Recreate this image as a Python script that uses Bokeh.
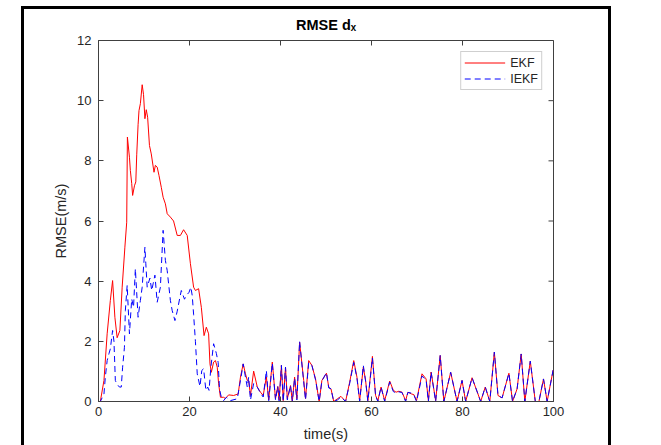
import math
from bokeh.plotting import figure
from bokeh.models import (Range1d, Legend, LegendItem, FixedTicker, ColumnDataSource,
                          Title, GlobalInlineStyleSheet)
from bokeh.embed import file_html
from bokeh.resources import INLINE

# ---------------- data ----------------
x_ticks = [0, 20, 40, 60, 80, 100]
y_ticks = [0, 2, 4, 6, 8, 10, 12]

ekf_t_early = [0, 0.4, 1.2, 1.9, 2.6, 3.1, 3.6, 4.1, 4.7, 5.2, 5.8, 6.2, 6.35, 6.8, 7.0,
               7.3, 7.5, 7.9, 8.2, 8.4, 8.7, 8.9, 9.2, 9.6, 9.9, 10.2, 10.5, 10.8, 11.2,
               11.6, 12.2, 12.5, 12.9, 13.3, 13.8, 14.2, 14.7, 15.1, 15.8, 16.5, 17.3,
               18.0, 18.7, 19.5, 20.2, 20.9, 21.3, 22.0, 22.6, 23.2, 23.7, 24.2, 24.5,
               24.8, 25.3, 25.7, 26.1, 26.4, 26.8, 27.5, 27.9, 28.6, 29.7, 30.7, 31.2,
               31.8, 32.3, 32.7, 33.0, 33.4]
ekf_y_early = [0, 0, 0.7, 2.25, 3.36, 4.02, 2.8, 2.12, 2.36, 3.8, 5.13, 5.96, 8.79, 8.12,
               7.68, 7.25, 6.85, 7.17, 7.3, 8.2, 9.2, 9.67, 9.9, 10.53, 10.2, 9.4, 9.7,
               9.45, 8.51, 8.23, 7.62, 7.85, 7.79, 7.51, 7.12, 6.79, 6.57, 6.24, 6.13,
               6.0, 5.52, 5.52, 5.71, 5.52, 4.58, 3.8, 3.69, 3.75, 3.13, 2.19, 2.47,
               2.25, 1.25, 0.97, 1.31, 1.36, 1.14, 0.59, 0.14, 0.14, 0.1, 0.22, 0.2,
               0.25, 0.81, 1.25, 0.92, 0.7, 0.7, 0.2]

iekf_t_early = [0, 0.4, 1.2, 1.5, 1.9, 2.3, 2.6, 3.1, 3.4, 3.7, 4.0, 4.6, 5.0, 5.3, 5.7,
                5.9, 6.3, 6.8, 7.3, 7.7, 8.1, 8.7, 9.2, 9.6, 10.2, 10.4, 10.7, 11.3,
                11.7, 12.0, 12.4, 12.9, 13.6, 14.2, 14.7, 15.1, 15.8, 16.2, 16.8, 17.3,
                17.9, 18.2, 18.9, 19.3, 19.9, 20.3, 20.6, 20.9, 21.3, 21.7, 22.3, 22.7,
                23.1, 23.6, 24.0, 24.3, 24.7, 25.3, 25.9, 26.3, 26.6, 27.0, 27.5, 28.1,
                29.0, 30.5, 31.2, 31.8, 32.3, 32.7, 33.0, 33.4]
iekf_y_early = [0, 0, 0.25, 0.81, 1.36, 1.59, 1.75, 2.36, 2.0, 0.7, 0.59, 0.48, 0.48,
                1.14, 1.8, 3.02, 3.86, 2.25, 3.41, 3.13, 4.41, 2.8, 3.36, 3.8, 5.13,
                4.58, 3.8, 4.1, 3.69, 3.91, 4.2, 3.3, 3.8, 5.69, 4.69, 4.35, 3.36, 3.02,
                2.69, 3.0, 3.47, 3.69, 3.4, 3.52, 3.63, 3.8, 3.52, 2.9, 2.0, 0.92, 0.5,
                1.03, 1.09, 0.37, 0.48, 0.37, 1.14, 1.92, 1.6, 1.3, 0.4, 0.14, 0.03,
                0.14, 0.03, 0.09, 0.7, 1.25, 0.81, 0.48, 0.81, 0.05]

late_t = [34.1, 34.9, 35.6, 36.2, 36.9, 37.4, 38.2, 38.9, 39.4, 39.7, 40.2, 40.6, 41.1,
          41.5, 42.2, 42.6, 43.1, 43.6, 44.2, 45.1, 45.5, 46.2, 46.9, 47.7, 48.5, 49.1,
          50.1, 50.6, 51.1, 51.7, 52.5, 53.3, 54.3, 55.2, 56.1, 56.8, 57.4, 58.2, 58.7,
          59.2, 60.2, 60.9, 61.4, 62.1, 62.9, 64.0, 64.8, 65.4, 66.0, 66.7, 67.5, 68.0,
          68.8, 69.3, 69.9, 71.1, 72.0, 72.5, 73.1, 74.1, 75.1, 75.9, 77.4, 78.8, 79.9,
          80.7, 82.1, 84.0, 85.0, 86.0, 87.0, 87.8, 88.7, 90.2, 91.0, 92.0, 92.9, 93.7,
          94.9, 96.0, 96.8, 97.8, 98.6, 99.9, 100]
ekf_late = [1.01, 0.48, 0.31, 0.2, 0.82, 0.05, 1.31, 0.09, 0.5, 0.05, 1.2, 0.03, 1.14,
            0.09, 0.53, 0.0, 0.81, 0.09, 1.97, 0.7, 0.1, 1.36, 1.2, 0.75, 0.0, 0.7, 0.94,
            0.48, 0.42, 0.0, 0.09, 0.17, 0.0, 0.64, 1.36, 0.81, 0.03, 1.14, 0.7, 0.03,
            1.5, 0.2, 0.03, 0.48, 0.03, 0.68, 0.37, 0.31, 0.34, 0.31, 0.03, 0.31, 0.25,
            0.23, 0.03, 0.92, 0.75, 0.03, 0.98, 0.03, 1.53, 0.0, 0.97, 0.0, 0.70, 0.0,
            0.79, 0.0, 0.48, 0.0, 1.64, 0.2, 0.12, 0.94, 0.0, 0.42, 1.58, 0.0, 1.34, 0.0,
            0.0, 0.75, 0.0, 1.03, 1.0]
iekf_late = [0.6, 0.48, 0.28, 0.15, 1.03, 0.0, 1.28, 0.05, 0.5, 0.0, 1.2, 0.0, 1.14,
             0.05, 0.53, 0.0, 0.78, 0.05, 2.0, 0.65, 0.05, 1.3, 1.2, 0.72, 0.0, 0.68,
             0.96, 0.45, 0.42, 0.0, 0.05, 0.15, 0.0, 0.6, 1.3, 0.78, 0.0, 1.2, 0.68, 0.0,
             1.45, 0.18, 0.0, 0.48, 0.0, 0.65, 0.33, 0.28, 0.32, 0.3, 0.0, 0.3, 0.28,
             0.22, 0.0, 0.85, 0.72, 0.0, 0.98, 0.0, 1.53, 0.0, 0.97, 0.0, 0.70, 0.0,
             0.79, 0.0, 0.48, 0.0, 1.64, 0.2, 0.12, 0.94, 0.0, 0.42, 1.58, 0.0, 1.34,
             0.0, 0.0, 0.75, 0.0, 1.03, 1.0]

ekf_t = ekf_t_early + late_t
ekf_y = ekf_y_early + ekf_late
iekf_t = iekf_t_early + late_t
iekf_y = iekf_y_early + iekf_late

FONT = "Liberation Sans"
AX = "#404040"

title = Title(text="RMSE d\u2093", align="center", text_font=FONT,
              text_font_size="14.5px", text_font_style="bold", text_color="black",
              standoff=16)

p = figure(width=661, height=445, x_range=Range1d(0, 100), y_range=Range1d(0, 12),
           output_backend="svg", toolbar_location=None, title=title,
           min_border_left=98, min_border_right=108, min_border_top=40,
           min_border_bottom=44)
p.background_fill_color = "white"
p.border_fill_color = "white"
p.outline_line_color = AX
p.outline_line_width = 1
p.xgrid.visible = False
p.ygrid.visible = False

for ax in (p.xaxis[0], p.yaxis[0]):
    ax.axis_line_color = AX
    ax.axis_line_width = 1
    ax.major_tick_line_color = AX
    ax.major_tick_in = 5
    ax.major_tick_out = 0
    ax.minor_tick_line_color = None
    ax.major_label_text_font = FONT
    ax.major_label_text_color = "#262626"
    ax.major_label_text_font_size = "13px"
    ax.axis_label_text_font = FONT
    ax.axis_label_text_font_style = "normal"
    ax.axis_label_text_font_size = "14.5px"
    ax.axis_label_text_color = "#262626"

p.xaxis.ticker = FixedTicker(ticks=x_ticks)
p.yaxis.ticker = FixedTicker(ticks=y_ticks)
p.xaxis.axis_label = "time(s)"
p.yaxis.axis_label = "RMSE(m/s)"
p.xaxis.major_label_standoff = 5
p.xaxis.axis_label_standoff = 7
p.yaxis.major_label_standoff = 7
p.yaxis.axis_label_standoff = 5

# inward ticks on the top and right edges of the box (half of each dash is clipped)
p.scatter(x=x_ticks, y=[y_ticks[-1]] * len(x_ticks), marker="dash", angle=math.pi / 2,
          size=10, line_color=AX, line_width=1)
p.scatter(x=[x_ticks[-1]] * len(y_ticks), y=y_ticks, marker="dash",
          size=10, line_color=AX, line_width=1)

src_e = ColumnDataSource(dict(t=ekf_t, y=ekf_y))
src_i = ColumnDataSource(dict(t=iekf_t, y=iekf_y))
r_e = p.line("t", "y", source=src_e, line_color="#ff0000", line_width=1)
r_i = p.line("t", "y", source=src_i, line_color="#0000ff", line_width=1,
             line_dash="6 4")

legend = Legend(items=[LegendItem(label="EKF", renderers=[r_e]),
                       LegendItem(label="IEKF", renderers=[r_i])],
                location="top_right")
legend.margin = 11
legend.padding = 3
legend.spacing = 1
legend.glyph_width = 41
legend.glyph_height = 15
legend.label_height = 15
legend.label_standoff = 5
legend.label_text_font = FONT
legend.label_text_font_size = "12.5px"
legend.label_text_color = "#262626"
legend.border_line_color = "#a0a0a0"
legend.border_line_width = 1
legend.background_fill_color = "white"
legend.background_fill_alpha = 1
p.add_layout(legend)

# outer black window frame (page decoration)
frame_css = ("body::after{content:'';position:fixed;left:21px;top:6px;width:584px;"
             "height:700px;border:3px solid #000;pointer-events:none;z-index:10;}")
p.stylesheets = [GlobalInlineStyleSheet(css=frame_css)]

open("out.html", "w").write(file_html(p, INLINE))
